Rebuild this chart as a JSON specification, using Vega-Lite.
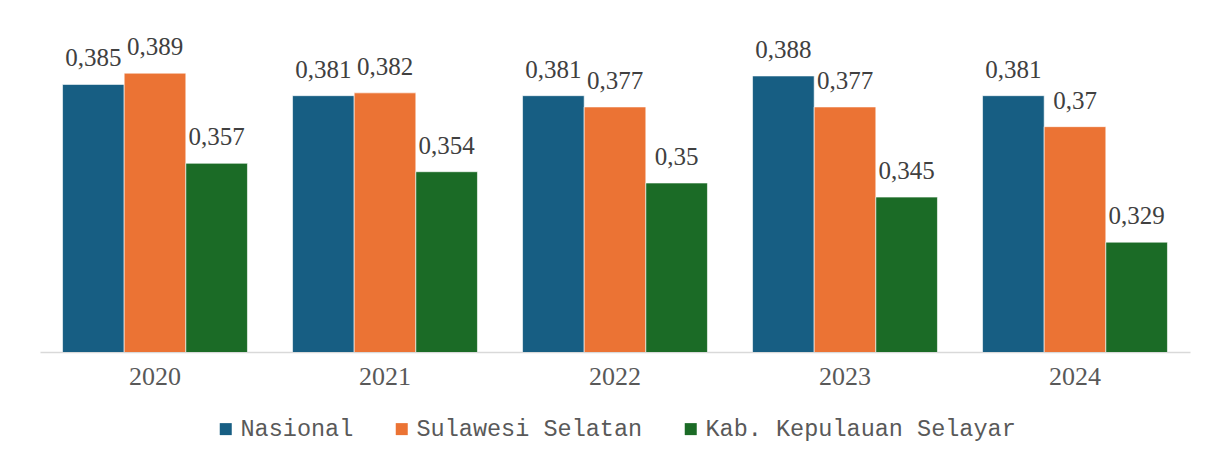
{
  "$schema": "https://vega.github.io/schema/vega-lite/v6.json",
  "width": 1150,
  "height": 338,
  "padding": {"left": 40, "top": 14, "right": 18, "bottom": 10},
  "background": "#ffffff",
  "data": {
    "values": [
      {"year": "2020", "series": "Nasional", "value": 0.385},
      {"year": "2020", "series": "Sulawesi Selatan", "value": 0.389},
      {"year": "2020", "series": "Kab. Kepulauan Selayar", "value": 0.357},
      {"year": "2021", "series": "Nasional", "value": 0.381},
      {"year": "2021", "series": "Sulawesi Selatan", "value": 0.382},
      {"year": "2021", "series": "Kab. Kepulauan Selayar", "value": 0.354},
      {"year": "2022", "series": "Nasional", "value": 0.381},
      {"year": "2022", "series": "Sulawesi Selatan", "value": 0.377},
      {"year": "2022", "series": "Kab. Kepulauan Selayar", "value": 0.35},
      {"year": "2023", "series": "Nasional", "value": 0.388},
      {"year": "2023", "series": "Sulawesi Selatan", "value": 0.377},
      {"year": "2023", "series": "Kab. Kepulauan Selayar", "value": 0.345},
      {"year": "2024", "series": "Nasional", "value": 0.381},
      {"year": "2024", "series": "Sulawesi Selatan", "value": 0.37},
      {"year": "2024", "series": "Kab. Kepulauan Selayar", "value": 0.329}
    ]
  },
  "encoding": {
    "x": {
      "field": "year",
      "type": "nominal",
      "title": null,
      "scale": {"paddingInner": 0.196, "paddingOuter": 0.098},
      "axis": {
        "labelAngle": 0,
        "labelFont": "Liberation Serif",
        "labelFontSize": 26,
        "labelColor": "#595959",
        "labelPadding": 11,
        "ticks": false,
        "domainColor": "#d9d9d9",
        "domainWidth": 1.5,
        "grid": false
      }
    },
    "xOffset": {
      "field": "series",
      "type": "nominal",
      "sort": ["Nasional", "Sulawesi Selatan", "Kab. Kepulauan Selayar"],
      "scale": {"paddingInner": 0, "paddingOuter": 0}
    },
    "y": {
      "field": "value",
      "type": "quantitative",
      "scale": {"domain": [0.29, 0.41], "zero": false, "nice": false},
      "axis": null
    }
  },
  "layer": [
    {
      "mark": {"type": "bar", "clip": true, "stroke": "#ffffff", "strokeWidth": 0.6},
      "encoding": {
        "color": {
          "field": "series",
          "type": "nominal",
          "scale": {
            "domain": ["Nasional", "Sulawesi Selatan", "Kab. Kepulauan Selayar"],
            "range": ["#175e83", "#eb7334", "#1b6b26"]
          },
          "legend": {
            "title": null,
            "orient": "bottom",
            "direction": "horizontal",
            "labelFont": "Liberation Mono",
            "labelFontSize": 23.5,
            "labelColor": "#595959",
            "labelLimit": 1000,
            "symbolType": "square",
            "symbolSize": 144,
            "symbolStrokeWidth": 0,
            "labelOffset": 3,
            "columnPadding": 36,
            "offset": 28
          }
        }
      }
    },
    {
      "mark": {
        "type": "text",
        "font": "Liberation Serif",
        "fontSize": 25,
        "color": "#404040",
        "baseline": "alphabetic",
        "dy": -18
      },
      "encoding": {
        "text": {"field": "value", "type": "quantitative", "format": ".3~f"}
      }
    }
  ],
  "config": {
    "view": {"stroke": null},
    "locale": {"number": {"decimal": ",", "thousands": ".", "grouping": [3], "currency": ["", ""]}},
    "legend": {"layout": {"bottom": {"anchor": "middle"}}}
  }
}
